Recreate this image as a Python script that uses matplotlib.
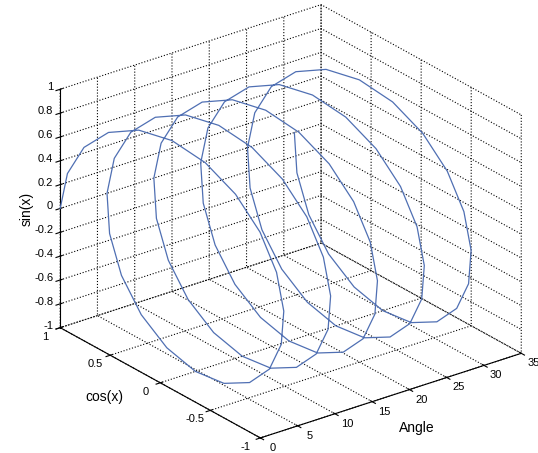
import numpy as np
import matplotlib
matplotlib.use('Agg')
import matplotlib.pyplot as plt
from mpl_toolkits.mplot3d import proj3d

plt.rcParams['font.family'] = ['Liberation Sans', 'DejaVu Sans']
plt.rcParams['grid.linestyle'] = ':'
plt.rcParams['grid.color'] = 'black'
plt.rcParams['grid.linewidth'] = 0.8

# helix: angle runs over five turns, sampled every pi/10
angle_step = np.pi / 10
angle_turns = 5
angle = np.arange(0, 2 * np.pi * angle_turns + angle_step / 2, angle_step)

x_ticks = [0, 5, 10, 15, 20, 25, 30, 35]
y_ticks = [-1, -0.5, 0, 0.5, 1]
z_ticks = [-1, -0.8, -0.6, -0.4, -0.2, 0, 0.2, 0.4, 0.6, 0.8, 1]

fig = plt.figure(figsize=(5.38, 4.53), dpi=100)
ax = fig.add_axes([0.029, -0.002, 1, 1], projection='3d', proj_type='ortho')
ax.plot(angle, np.cos(angle), np.sin(angle), color='#4f6fb3', lw=0.9)

ax.set_xlim(0, 35)
ax.set_ylim(-1, 1)
ax.set_zlim(-1, 1)
ax.set_xticks(x_ticks)
ax.set_yticks(y_ticks)
ax.set_zticks(z_ticks)
ax.set_xticklabels([])
ax.set_yticklabels([])
ax.set_zticklabels([])

for axis in (ax.xaxis, ax.yaxis, ax.zaxis):
    axis.set_pane_color((1, 1, 1, 0))
    axis.pane.set_edgecolor('none')
    axis.line.set_color('black')
    axis.line.set_linewidth(0.8)

ax.view_init(elev=25, azim=-127.5)
ax.set_box_aspect((1, 1, 0.80), zoom=1.145)

# tick labels placed flat next to the axis lines
fig.canvas.draw()
M = ax.get_proj()
W, H = fig.bbox.width, fig.bbox.height


def label_at(x, y, z, text, dx, dy, **kw):
    px, py, _ = proj3d.proj_transform(x, y, z, M)
    sx, sy = ax.transData.transform((px, py))
    fig.text((sx + dx) / W, (sy + dy) / H, text, fontsize=8, **kw)


def fmt(v):
    return ('%g' % v)


for t in x_ticks:
    label_at(t, -1, -1, fmt(t), 12, -10, ha='center', va='center')
for t in y_ticks:
    label_at(0, t, -1, fmt(t), -15, -9, ha='center', va='center')
for t in z_ticks:
    label_at(0, 1, t, fmt(t), -7, 2, ha='right', va='center')

fig.text(104 / 538, 1 - 397 / 453, 'cos(x)', fontsize=10, ha='center', va='center')
fig.text(417 / 538, 1 - 428 / 453, 'Angle', fontsize=10, ha='center', va='center')
fig.text(27 / 538, 1 - 209 / 453, 'sin(x)', fontsize=10, ha='center', va='center',
         rotation=90)

fig.savefig('out.png', dpi=100)
